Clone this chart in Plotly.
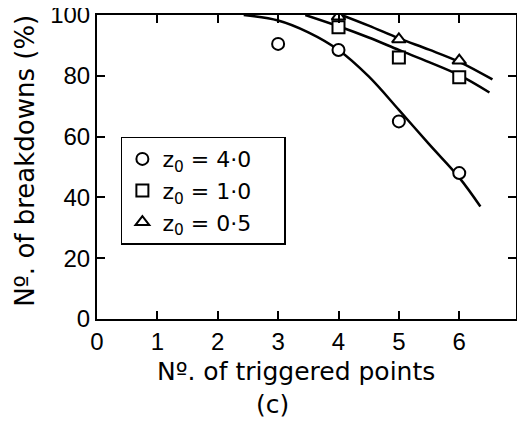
import plotly.graph_objects as go

# Measured points
x_pts = [3, 4, 5, 6]
circle_y = [90.5, 88.5, 65, 48]
x_sq = [4, 5, 6]
square_y = [96, 86, 79.5]
x_tri = [4, 5, 6]
tri_y = [99.5, 92, 85]

# Fitted curves
c_curve_x = [2.43, 3.0, 3.5, 4.0, 4.5, 5.0, 5.5, 6.0, 6.35]
c_curve_y = [100, 98.2, 94.3, 88.5, 79.8, 68.8, 57.5, 46.5, 37]
s_curve_x = [3.45, 4.0, 4.5, 5.0, 5.5, 6.0, 6.5]
s_curve_y = [100, 96.3, 92.6, 88.5, 84.5, 80.2, 74.5]
t_curve_x = [4.05, 4.5, 5.0, 5.5, 6.0, 6.55]
t_curve_y = [100, 96.5, 92.3, 88.6, 84.6, 78.8]

x_ticks = [0, 1, 2, 3, 4, 5, 6]
x_ticktext = ["0", "1", "2", "3", "4", "5", "6"]
y_ticks = [0, 20, 40, 60, 80, 100]

TICKFONT = "Liberation Sans, Arial"
TITLEFONT = "DejaVu Sans"
PAD = "\u00a0\u00a0\u00a0\u00a0"

fig = go.Figure()

line_style = dict(color="black", width=2.5, shape="spline", smoothing=1)
for cx, cy in [(c_curve_x, c_curve_y), (s_curve_x, s_curve_y), (t_curve_x, t_curve_y)]:
    fig.add_trace(go.Scatter(x=cx, y=cy, mode="lines", line=line_style,
                             showlegend=False, hoverinfo="skip"))

mk = dict(color="white", size=12, line=dict(color="black", width=2))
fig.add_trace(go.Scatter(x=x_pts, y=circle_y, mode="markers",
                         marker=dict(symbol="circle", **mk),
                         name="z<sub>0</sub> = 4·0" + PAD))
fig.add_trace(go.Scatter(x=x_sq, y=square_y, mode="markers",
                         marker=dict(symbol="square", **mk),
                         name="z<sub>0</sub> = 1·0" + PAD))
fig.add_trace(go.Scatter(x=x_tri, y=tri_y, mode="markers",
                         marker=dict(symbol="triangle-up", **mk),
                         name="z<sub>0</sub> = 0·5" + PAD))

axis_common = dict(showline=True, linecolor="black", linewidth=2, mirror="allticks",
                   ticks="inside", ticklen=8, tickwidth=1.5, tickcolor="black",
                   showgrid=False, zeroline=False, automargin=False,
                   ticklabeloverflow="allow",
                   tickfont=dict(family=TICKFONT, size=24, color="black"))

fig.update_xaxes(range=[0, 6.94], tickvals=x_ticks, ticktext=x_ticktext, **axis_common)
fig.update_yaxes(range=[0, 100], tickvals=y_ticks, **axis_common)

fig.add_annotation(text="Nº. of breakdowns (%)", xref="paper", yref="paper",
                   x=-0.172, y=0.52, xanchor="center", yanchor="middle", textangle=-90,
                   showarrow=False, font=dict(family=TITLEFONT, size=26, color="black"))
fig.add_annotation(text="Nº. of triggered points", xref="paper", yref="paper",
                   x=0.475, y=-0.172, xanchor="center", yanchor="middle", showarrow=False,
                   font=dict(family=TITLEFONT, size=25, color="black"))
fig.add_annotation(text="(c)", xref="paper", yref="paper",
                   x=0.418, y=-0.28, xanchor="center", yanchor="middle", showarrow=False,
                   font=dict(family=TITLEFONT, size=25, color="black"))

# page body adds an 8px offset; figure sized to fit the window
fig.update_layout(
    width=517, height=415,
    margin=dict(l=89, r=9, t=7, b=104),
    paper_bgcolor="white", plot_bgcolor="white",
    legend=dict(x=0.057, y=0.6, xanchor="left", yanchor="top",
                bordercolor="black", borderwidth=1.5, bgcolor="white",
                font=dict(family=TITLEFONT, size=22, color="black"),
                tracegroupgap=0, itemwidth=30),
)

fig.write_html("out.html")
